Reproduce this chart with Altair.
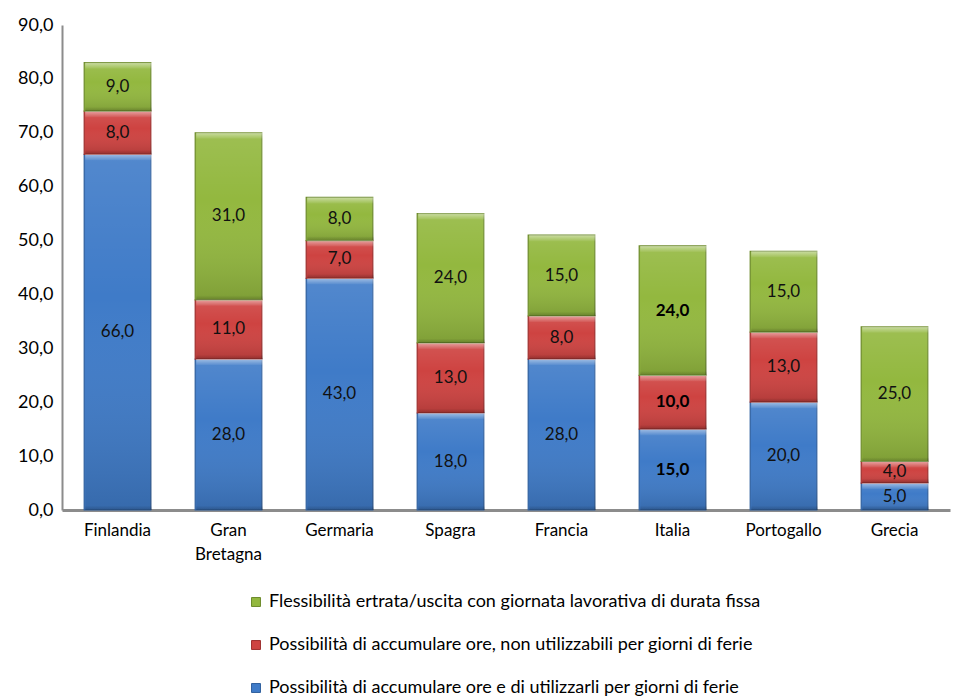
import altair as alt
import pandas as pd

countries = ["Finlandia", "Gran Bretagna", "Germaria", "Spagra", "Francia", "Italia", "Portogallo", "Grecia"]
series = [
    "Possibilità di accumulare ore e di utilizzarli per giorni di ferie",
    "Possibilità di accumulare ore, non utilizzabili per giorni di ferie",
    "Flessibilità ertrata/uscita con giornata lavorativa di durata fissa",
]
blue_vals = [66, 28, 43, 18, 28, 15, 20, 5]
red_vals = [8, 11, 7, 13, 8, 10, 13, 4]
green_vals = [9, 31, 8, 24, 15, 24, 15, 25]
bold_country = "Italia"

fill_colors = ["#3F7BC8", "#CE4341", "#93B83F"]
edge_colors = ["#30609E", "#9E302F", "#6D8B2C"]

rows = []
for i, c in enumerate(countries):
    for s_idx, vals in enumerate([blue_vals, red_vals, green_vals]):
        rows.append({"country": c, "series": series[s_idx], "ord": s_idx, "value": vals[i]})
df = pd.DataFrame(rows)

legend_order = [series[2], series[1], series[0]]
color_scale = alt.Scale(domain=legend_order, range=[fill_colors[2], fill_colors[1], fill_colors[0]])
stroke_scale = alt.Scale(domain=legend_order, range=[edge_colors[2], edge_colors[1], edge_colors[0]])

FONT = "Lato"

base = alt.Chart(df).transform_stack(
    stack="value", groupby=["country"], as_=["y0", "y1"], sort=[alt.SortField("ord", order="ascending")]
).transform_calculate(
    mid="(datum.y0 + datum.y1) / 2",
    lbl="replace(format(datum.value, '.1f'), '.', ',')",
)

x_enc = alt.X(
    "country:N",
    sort=countries,
    title=None,
    scale=alt.Scale(paddingInner=0.4, paddingOuter=0.2),
    axis=alt.Axis(
        labelAngle=0,
        labelFont=FONT,
        labelFontSize=17,
        labelColor="#000000",
        labelPadding=12,
        ticks=False,
        domainColor="#8C8C8C",
        domainWidth=3,
        labelExpr="datum.value == 'Gran Bretagna' ? ['Gran', 'Bretagna'] : datum.value",
        labelLineHeight=24,
    ),
)

bars = base.mark_bar(strokeWidth=1.2).encode(
    x=x_enc,
    y=alt.Y(
        "y0:Q",
        title=None,
        scale=alt.Scale(domain=[0, 90]),
        axis=alt.Axis(
            values=[0, 10, 20, 30, 40, 50, 60, 70, 80, 90],
            labelExpr="replace(format(datum.value, '.1f'), '.', ',')",
            labelFont=FONT,
            labelFontSize=18,
            labelColor="#000000",
            labelPadding=9,
            ticks=False,
            grid=False,
            domainColor="#8C8C8C",
            domainWidth=2,
        ),
    ),
    y2="y1:Q",
    color=alt.Color(
        "series:N",
        scale=color_scale,
        legend=alt.Legend(
            title=None,
            orient="none",
            legendX=185,
            legendY=568,
            direction="vertical",
            symbolType="square",
            symbolSize=80,
            symbolStrokeWidth=1,
            labelFont=FONT,
            labelFontSize=18,
            labelColor="#000000",
            labelLimit=800,
            rowPadding=25,
            labelOffset=4,
        ),
    ),
    stroke=alt.Stroke("series:N", scale=stroke_scale, legend=None),
    order=alt.Order("ord:Q"),
)

shade = base.mark_bar(
    fill=alt.Gradient(
        gradient="linear",
        x1=0, x2=0, y1=0, y2=1,
        stops=[
            alt.GradientStop(color="rgba(255,255,255,0.10)", offset=0),
            alt.GradientStop(color="rgba(255,255,255,0.0)", offset=0.4),
            alt.GradientStop(color="rgba(0,0,0,0.14)", offset=1),
        ],
    ),
    xOffset=1, x2Offset=-1,
).encode(
    x=alt.X("country:N", sort=countries),
    y="y0:Q",
    y2="y1:Q",
)

top_hl = base.mark_bar(
    fill=alt.Gradient(
        gradient="linear",
        x1=0, x2=0, y1=0, y2=1,
        stops=[
            alt.GradientStop(color="rgba(255,255,255,0.45)", offset=0),
            alt.GradientStop(color="rgba(255,255,255,0.05)", offset=1),
        ],
    ),
    y2Offset=6,
    xOffset=1, x2Offset=-1,
).encode(
    x=alt.X("country:N", sort=countries),
    y="y1:Q",
    y2="y1:Q",
)

bottom_sh = base.mark_bar(
    fill=alt.Gradient(
        gradient="linear",
        x1=0, x2=0, y1=0, y2=1,
        stops=[
            alt.GradientStop(color="rgba(0,0,0,0.02)", offset=0),
            alt.GradientStop(color="rgba(0,0,0,0.18)", offset=1),
        ],
    ),
    y2Offset=-4,
    xOffset=1, x2Offset=-1,
).encode(
    x=alt.X("country:N", sort=countries),
    y="y0:Q",
    y2="y0:Q",
)

labels_normal = base.transform_filter(
    alt.datum.country != bold_country
).mark_text(font=FONT, fontSize=17, color="#111111", baseline="middle").encode(
    x=alt.X("country:N", sort=countries),
    y=alt.Y("mid:Q"),
    text="lbl:N",
)

labels_bold = base.transform_filter(
    alt.datum.country == bold_country
).mark_text(font=FONT, fontSize=17, fontWeight="bold", color="#000000", baseline="middle").encode(
    x=alt.X("country:N", sort=countries),
    y=alt.Y("mid:Q"),
    text="lbl:N",
)

chart = alt.layer(bars, shade, top_hl, bottom_sh, labels_normal, labels_bold).properties(
    width=888,
    height=485,
    autosize=alt.AutoSizeParams(type="none"),
    padding={"left": 62, "top": 25, "right": 3, "bottom": 190},
).configure(background="white").configure_view(strokeWidth=0)

chart.save("out.html", embed_options={"renderer": "svg", "actions": False})
